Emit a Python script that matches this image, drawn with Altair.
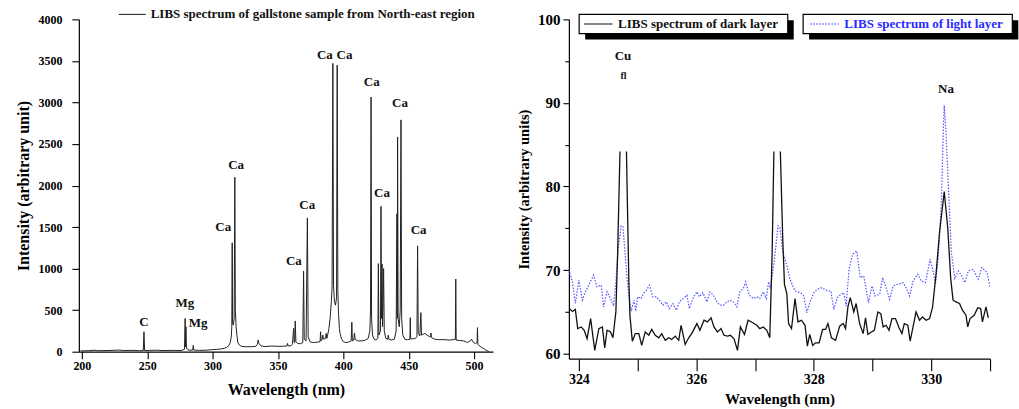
import altair as alt
import pandas as pd

# ---------------- Left panel: LIBS spectrum (200-515 nm) ----------------
left_wl = [199, 205, 210, 212, 220, 228, 232, 240, 244, 247, 247.5, 248, 252, 258, 262, 270, 276,
           278.5, 279.0, 279.3, 279.6, 280.0, 282, 284.8, 285.2, 285.6, 290, 295, 300, 303, 306,
           309, 311, 312.5, 313.5, 314.3, 314.7, 315.0, 315.3, 315.8, 316.5, 317.0, 317.4, 318.0,
           318.6, 319.3, 320.5, 322, 325, 330, 333, 334.3, 334.8, 335.5, 337, 340, 345, 350, 354,
           357, 357.3, 357.8, 360, 361.0, 362.0, 362.4, 362.8, 363.2, 363.7, 365, 367, 369.0, 369.6,
           370.1, 371.5, 372.5, 373.1, 374.5, 377, 380, 382.2, 382.6, 383.0, 383.8, 384.3, 384.8,
           386.3, 386.9, 387.4, 388, 389, 390, 390.8, 391.4, 392.0, 392.5, 393.2, 394, 394.8, 395.3,
           395.8, 396.3, 397, 397.5, 398.7, 400, 402, 404, 406.0, 406.5, 406.9, 408, 408.5, 409,
           411, 414, 417, 419, 420.3, 420.8, 421.2, 421.6, 422.3, 423.5, 425, 426.4, 426.8, 427.2,
           428.4, 428.8, 429.2, 429.6, 430.0, 430.3, 430.8, 431.3, 432.5, 434.0, 434.4, 434.8, 437,
           439, 440.4, 441.0, 441.3, 441.5, 441.9, 442.8, 443.5, 444.1, 444.6, 445.5, 447, 449,
           450.9, 451.2, 451.5, 453, 455, 456.3, 456.8, 457.3, 458.5, 459.3, 459.8, 461, 462.5, 464,
           466, 466.7, 467.0, 467.4, 470, 473, 477, 481, 484, 485.7, 486.0, 486.3, 489, 492, 495,
           497, 498, 499.5, 501, 502.3, 502.6, 502.9, 504, 506, 508, 510, 511.5]
left_int = [10, 12, 18, 12, 14, 20, 14, 16, 12, 14, 240, 14, 16, 18, 14, 16, 14,
            30, 400, 60, 300, 40, 18, 20, 75, 20, 16, 18, 25, 28, 32,
            40, 55, 75, 110, 180, 300, 1310, 350, 320, 400, 2100, 500, 300,
            200, 110, 80, 65, 60, 60, 65, 90, 140, 100, 70, 62, 68, 65, 66,
            70, 100, 70, 72, 90, 280, 110, 110, 370, 120, 100, 95, 110, 970,
            150, 130, 1610, 180, 120, 110, 115, 120, 240, 130, 150, 200, 150,
            160, 220, 160, 200, 280, 420, 600, 780, 3470, 800, 600, 560, 650, 3450,
            750, 460, 280, 220, 150, 120, 110, 115, 130, 355, 130, 140, 225, 150,
            130, 130, 140, 160, 250, 500, 3065, 400, 200, 150, 140, 160, 1060, 200,
            250, 1750, 400, 1055, 300, 500, 1000, 250, 160, 150, 200, 150, 140,
            150, 250, 1660, 400, 2585, 400, 300, 500, 2790, 400, 200, 150, 145,
            150, 410, 155, 155, 160, 180, 1274, 220, 190, 470, 200, 210, 220, 200,
            180, 180, 225, 170, 150, 145, 145, 140, 145, 150, 875, 140, 135, 130, 110,
            130, 150, 110, 100, 110, 290, 90, 70, 50, 30, 12, 0]

left_lbl_wl = [247.5, 278.8, 289.0, 308.1, 318.0, 362.2, 372.4, 385.9, 400.9, 421.7, 429.6, 443.3, 457.6]
left_lbl_int = [361, 589, 349, 1495, 2244, 1094, 1763, 3566, 3566, 3245, 1916, 2998, 1463]
left_lbl_txt = ["C", "Mg", "Mg", "Ca", "Ca", "Ca", "Ca", "Ca", "Ca", "Ca", "Ca", "Ca", "Ca"]

left_x_ticks = list(range(200, 501, 25))
left_y_ticks = list(range(0, 4001, 250))

# ---------------- Right panel: dark vs light layer (324-331 nm) ----------------
dark_wl = [323.83, 323.89, 323.94, 323.98, 324.04, 324.09, 324.14, 324.20, 324.27, 324.34, 324.40,
           324.44, 324.48, 324.54, 324.58, 324.63, 324.66, 324.70, None, 324.81, 324.85, 324.87,
           324.91, 324.96, 325.02, 325.07, 325.13, 325.19, 325.24, 325.30, 325.36, 325.41, 325.47,
           325.53, 325.58, 325.64, 325.70, 325.74, 325.81, 325.87, 325.92, 326.01, 326.06, 326.13,
           326.19, 326.25, 326.30, 326.36, 326.42, 326.47, 326.53, 326.58, 326.64, 326.70, 326.75,
           326.82, 326.88, 326.96, 327.03, 327.08, 327.14, 327.20, 327.25, 327.29, 327.32, None,
           327.43, 327.47, 327.50, 327.54, 327.57, 327.62, 327.68, 327.73, 327.79, 327.85, 327.89,
           327.93, 327.98, 328.03, 328.09, 328.15, 328.20, 328.24, 328.30, 328.37, 328.44, 328.50,
           328.54, 328.58, 328.62, 328.68, 328.72, 328.78, 328.84, 328.88, 328.92, 328.98, 329.03,
           329.09, 329.14, 329.18, 329.23, 329.28, 329.33, 329.39, 329.45, 329.50, 329.54, 329.60,
           329.64, 329.70, 329.74, 329.80, 329.85, 329.91, 329.97, 330.02, 330.08, 330.14, 330.22,
           330.28, 330.33, 330.37, 330.42, 330.48, 330.53, 330.59, 330.62, 330.66, 330.73, 330.79,
           330.84, 330.87, 330.93, 330.97]
dark_int = [65.45, 65.05, 65.3, 63.0, 63.2, 62.8, 61.8, 64.2, 60.4, 63.0, 63.2,
            60.7, 62.8, 62.6, 61.9, 65.0, 72.0, 84.2, None, 84.2, 69.0, 64.5,
            61.5, 62.4, 62.4, 61.0, 62.6, 62.2, 62.9, 62.2, 61.9, 62.4, 61.6,
            61.9, 61.7, 62.1, 61.6, 63.4, 61.1, 61.9, 62.4, 63.6, 62.8, 64.0,
            63.8, 64.3, 63.2, 62.6, 63.0, 62.2, 62.1, 62.2, 61.8, 60.4, 63.2,
            62.3, 64.0, 63.7, 63.4, 63.0, 63.2, 62.8, 61.9, 72.0, 84.2, None,
            84.2, 73.9, 68.3, 67.2, 63.6, 63.0, 66.6, 63.8, 64.0, 63.4, 60.9,
            62.3, 61.0, 61.3, 61.3, 62.9, 62.9, 63.6, 61.9, 61.6, 63.3, 63.6,
            63.0, 65.6, 66.7, 65.0, 66.0, 63.6, 62.4, 64.3, 62.3, 62.6, 62.8,
            65.0, 64.8, 63.2, 63.4, 62.8, 64.2, 64.2, 63.1, 62.4, 63.6, 63.4,
            61.5, 63.6, 65.0, 64.0, 64.4, 64.0, 64.2, 65.5, 69.5, 74.5, 79.4,
            75.0, 69.0, 66.4, 66.2, 66.0, 65.2, 64.6, 63.2, 64.2, 64.6, 65.5,
            65.4, 63.8, 65.6, 64.3]

light_wl = [323.83, 323.89, 323.94, 324.00, 324.06, 324.11, 324.17, 324.25, 324.31, 324.38, 324.42,
            324.48, 324.54, 324.59, 324.63, 324.67, 324.72, 324.75, 324.78, 324.82, 324.85, 324.89,
            324.94, 324.97, 325.00, 325.06, 325.10, 325.15, 325.20, 325.26, 325.32, 325.37, 325.43,
            325.49, 325.54, 325.60, 325.66, 325.71, 325.78, 325.84, 325.88, 325.94, 326.01, 326.05,
            326.11, 326.18, 326.23, 326.29, 326.35, 326.40, 326.46, 326.52, 326.57, 326.63, 326.69,
            326.74, 326.80, 326.84, 326.90, 326.97, 327.03, 327.08, 327.14, 327.19, 327.23, 327.26,
            327.32, 327.39, 327.42, 327.47, 327.54, 327.59, 327.63, 327.68, 327.77, 327.83, 327.88,
            327.94, 328.00, 328.06, 328.14, 328.23, 328.29, 328.34, 328.40, 328.46, 328.51, 328.55,
            328.60, 328.66, 328.73, 328.79, 328.85, 328.93, 328.99, 329.04, 329.12, 329.17, 329.23,
            329.29, 329.35, 329.43, 329.52, 329.57, 329.63, 329.69, 329.77, 329.83, 329.90, 329.98,
            330.03, 330.07, 330.12, 330.17, 330.20, 330.22, 330.25, 330.30, 330.34, 330.40, 330.46,
            330.52, 330.57, 330.63, 330.71, 330.80, 330.86, 330.95, 331.00]
light_int = [70.0, 68.6, 66.0, 68.8, 66.4, 67.4, 68.2, 69.4, 68.0, 68.2, 65.6,
             67.4, 66.6, 65.7, 68.6, 72.6, 75.3, 75.2, 72.6, 69.0, 67.0, 65.1,
             66.4, 65.1, 66.8, 66.6, 67.2, 67.6, 68.2, 66.8, 66.8, 66.4, 65.8,
             66.2, 65.4, 66.0, 65.2, 66.2, 66.6, 67.0, 65.4, 66.6, 67.4, 66.8,
             67.3, 66.2, 67.4, 67.0, 66.2, 65.8, 65.8, 66.2, 66.4, 66.2, 65.6,
             67.4, 67.8, 68.6, 67.0, 66.6, 66.8, 66.6, 67.4, 66.6, 68.6, 67.8,
             70.7, 75.3, 75.2, 72.2, 70.6, 69.0, 68.3, 67.5, 67.3, 66.9, 64.9,
             66.3, 67.3, 67.7, 67.9, 67.5, 67.5, 65.3, 66.7, 67.1, 67.3, 65.7,
             70.1, 71.9, 72.3, 69.1, 69.3, 66.1, 68.1, 66.9, 67.1, 69.1, 67.9,
             66.5, 68.1, 68.3, 68.5, 67.9, 66.9, 68.7, 69.5, 68.7, 68.5, 71.3,
             69.9, 68.3, 71.7, 78.0, 85.7, 89.7, 86.5, 78.6, 72.2, 69.0, 69.9,
             69.3, 68.5, 69.9, 70.1, 68.9, 70.3, 69.7, 67.9]

right_lbl_wl = [324.75, 324.76, 330.25]
right_lbl_int = [95.6, 93.2, 91.7]
right_lbl_txt = ["Cu", "fl", "Na"]

right_x_ticks = list(range(324, 332))
right_y_ticks = list(range(60, 101, 5))

FONT = "Liberation Serif"
MINOR_DASH = [4, 40]


def dash_cond(test):
    return {"condition": {"test": test, "value": MINOR_DASH}, "value": []}


# ---------- build tables ----------
left_df = pd.DataFrame({"wl": left_wl, "I": left_int})
left_lbl = pd.DataFrame({"wl": left_lbl_wl, "I": left_lbl_int, "t": left_lbl_txt})


def segmented(wl, vals, name):
    rows, seg = [], 0
    for w, v in zip(wl, vals):
        if w is None or v is None:
            seg += 1
            continue
        rows.append({"wl": w, "I": v, "seg": seg, "series": name})
    return pd.DataFrame(rows)


dark_df = segmented(dark_wl, dark_int, "dark")
light_df = segmented(light_wl, light_int, "light")
right_lbl = pd.DataFrame({"wl": right_lbl_wl, "I": right_lbl_int, "t": right_lbl_txt})
one = alt.Data(values=[{"a": 1}])

# ---------- left chart ----------
xL = alt.X("wl:Q",
           scale=alt.Scale(domain=[197.7, 514.5], nice=False, zero=False),
           axis=alt.Axis(values=left_x_ticks, title="Wavelength (nm)", format="d",
                         labelExpr="datum.value % 50 == 0 ? datum.label : ''",
                         tickSize=7, tickDash=dash_cond("datum.value % 50 != 0"),
                         labelFontSize=12, labelPadding=2, titleFontSize=16, titlePadding=10,
                         labelFlush=False, labelOverlap=False))
yL = alt.Y("I:Q",
           scale=alt.Scale(domain=[0, 4000], nice=False),
           axis=alt.Axis(values=left_y_ticks, title="Intensity (arbitrary unit)", format="d",
                         labelExpr="datum.value % 500 == 0 ? datum.label : ''",
                         tickSize=7, tickDash=dash_cond("datum.value % 500 != 0"),
                         labelFontSize=12, labelPadding=10, titleFontSize=16, titlePadding=6,
                         labelFlush=False, labelOverlap=False))

left_line = alt.Chart(left_df).mark_line(color="#222222", strokeWidth=1, interpolate="linear").encode(x=xL, y=yL)
left_text = alt.Chart(left_lbl).mark_text(font=FONT, fontWeight="bold", fontSize=13, baseline="middle",
                                          color="#111111").encode(x="wl:Q", y="I:Q", text="t:N")
left_leg_line = alt.Chart(one).mark_rule(color="#111111", strokeWidth=1).encode(
    x=alt.value(40), x2=alt.value(67), y=alt.value(-5))
left_leg_text = alt.Chart(one).mark_text(font=FONT, fontWeight="bold", fontSize=13, align="left",
                                         baseline="middle", color="#111111").encode(
    x=alt.value(72), y=alt.value(-5), text=alt.value("LIBS spectrum of gallstone sample from North-east region"))

left = alt.layer(left_line, left_text, left_leg_line, left_leg_text).properties(width=415, height=333)

# ---------- right chart ----------
xR = alt.X("wl:Q",
           scale=alt.Scale(domain=[323.83, 331.0], nice=False, zero=False),
           axis=alt.Axis(values=right_x_ticks, title="Wavelength (nm)", format="d",
                         labelExpr="datum.value % 2 == 0 ? datum.label : ''",
                         tickSize=12, tickDash=[],
                         labelFontSize=14, labelPadding=2, titleFontSize=15, titlePadding=5,
                         labelFlush=False, labelOverlap=False))
yR = alt.Y("I:Q",
           scale=alt.Scale(domain=[59.4, 100], nice=False, zero=False),
           axis=alt.Axis(values=right_y_ticks, title="Intensity (arbitrary units)", format="d",
                         labelExpr="datum.value % 10 == 0 ? datum.label : ''",
                         tickSize=6, tickDash=dash_cond("datum.value % 10 != 0"),
                         labelFontSize=15, labelPadding=3, titleFontSize=14.5, titlePadding=6,
                         labelFlush=False, labelOverlap=False))

light_line = alt.Chart(light_df).mark_line(color="#5555ff", strokeWidth=1.2, strokeDash=[1.5, 1.5],
                                           clip=True).encode(x=xR, y=yR, detail="seg:N")
dark_line = alt.Chart(dark_df).mark_line(color="#111111", strokeWidth=1.3, clip=True).encode(
    x=xR, y=yR, detail="seg:N")
right_text = alt.Chart(right_lbl).mark_text(font=FONT, fontWeight="bold", fontSize=13, baseline="middle",
                                            color="#111111").encode(
    x="wl:Q", y="I:Q", text="t:N",
    size=alt.condition("datum.t == 'fl'", alt.value(10), alt.value(13)))


def legend_box(x0, x1, y0, y1, lx0, lx1, tx, text, color, dash):
    shadow = alt.Chart(one).mark_rect(color="#000000").encode(
        x=alt.value(x0 + 6), x2=alt.value(x1 + 6), y=alt.value(y0 + 6), y2=alt.value(y1 + 6))
    box = alt.Chart(one).mark_rect(fill="#ffffff", stroke="#000000", strokeWidth=1.2).encode(
        x=alt.value(x0), x2=alt.value(x1), y=alt.value(y0), y2=alt.value(y1))
    ym = (y0 + y1) / 2
    sample = alt.Chart(one).mark_rule(color=color, strokeWidth=1.2, strokeDash=dash).encode(
        x=alt.value(lx0), x2=alt.value(lx1), y=alt.value(ym))
    label = alt.Chart(one).mark_text(font=FONT, fontWeight="bold", fontSize=13, align="left",
                                     baseline="middle", color=color).encode(
        x=alt.value(tx), y=alt.value(ym), text=alt.value(text))
    return [shadow, box, sample, label]


legend_layers = (legend_box(10.3, 219.3, -5, 14.3, 15.3, 43.7, 49.3, "LIBS spectrum of dark layer",
                            "#111111", [1, 0])
                 + legend_box(234.7, 444.3, -5, 14.3, 242, 270.3, 276, "LIBS spectrum of light layer",
                              "#2a2aff", [1.5, 1.5]))

right = alt.layer(light_line, dark_line, right_text, *legend_layers).properties(width=422, height=340)

chart = (alt.hconcat(left, right, spacing=76, bounds="flush")
         .properties(padding={"left": 16, "top": 8, "right": 0, "bottom": 0}, background="#ffffff")
         .configure_view(stroke=None)
         .configure_axis(grid=False, domainColor="#000000", domainWidth=1.2, tickColor="#000000",
                         tickWidth=1.1, labelFont=FONT, labelFontWeight="bold", labelColor="#000000",
                         titleFont=FONT, titleFontWeight="bold", titleColor="#000000"))

chart.save("out.html", embed_options={"renderer": "svg", "actions": False})
